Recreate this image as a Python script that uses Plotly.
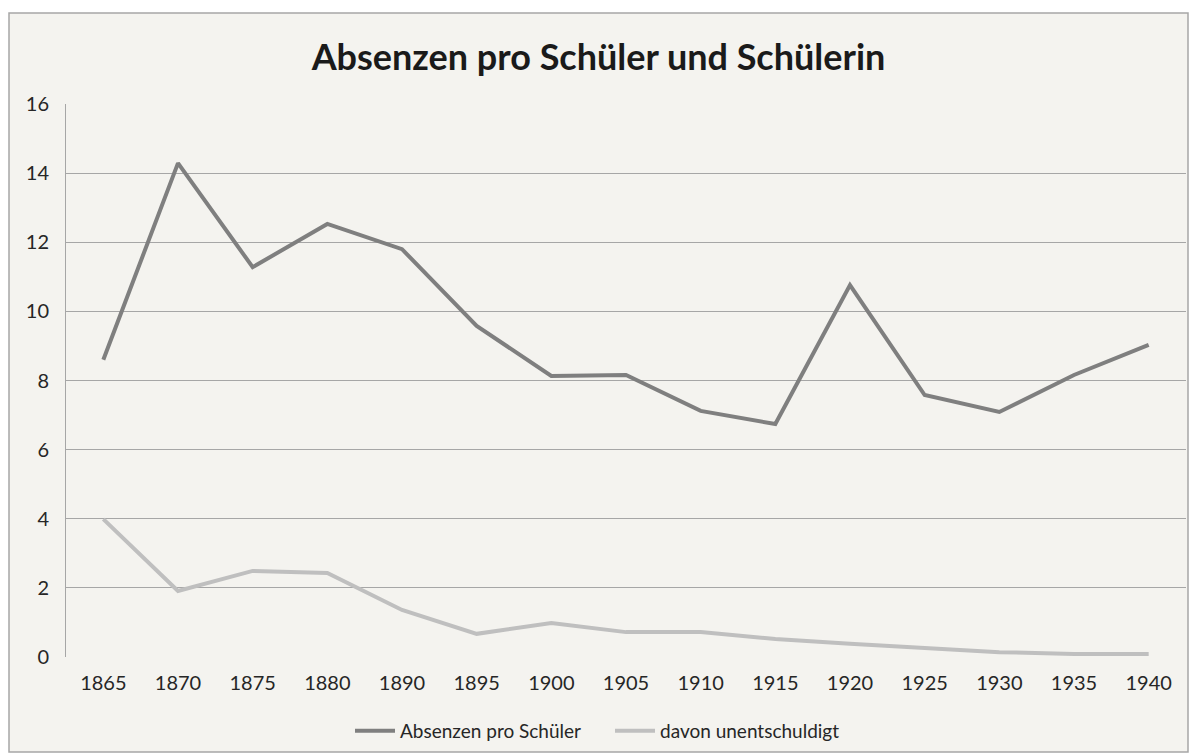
import plotly.graph_objects as go

years = ["1865", "1870", "1875", "1880", "1890", "1895", "1900", "1905",
         "1910", "1915", "1920", "1925", "1930", "1935", "1940"]
absenzen = [8.6, 14.29, 11.28, 12.53, 11.8, 9.58, 8.13, 8.16,
            7.12, 6.74, 10.76, 7.58, 7.09, 8.16, 9.03]
unentschuldigt = [3.99, 1.91, 2.49, 2.43, 1.36, 0.67, 0.98, 0.72,
                  0.72, 0.52, 0.38, 0.26, 0.14, 0.09, 0.09]

FONT = "Lato"
L, R, T, B = 66, 11, 104, 98
PW, PH = 1197 - L - R, 755 - T - B


def px_x(p):
    return (p - L) / PW


def px_y(p):
    return (755 - B - p) / PH


fig = go.Figure()
fig.add_trace(go.Scatter(x=years, y=absenzen, mode="lines", name="Absenzen pro Schüler",
                         line=dict(color="#7f7f7f", width=4), legend="legend"))
fig.add_trace(go.Scatter(x=years, y=unentschuldigt, mode="lines", name="davon unentschuldigt",
                         line=dict(color="#bfbfbf", width=4), legend="legend2"))

leg_common = dict(orientation="h", yanchor="middle", xanchor="left",
                  font=dict(family=FONT, size=19, color="#262626"),
                  bgcolor="rgba(0,0,0,0)", itemwidth=40, borderwidth=0)

fig.update_layout(
    width=1197, height=755,
    margin=dict(l=L, r=R, t=T, b=B, autoexpand=False),
    paper_bgcolor="white",
    plot_bgcolor="rgba(0,0,0,0)",
    font=dict(family=FONT, size=20, color="#262626"),
    title=dict(text="<b>Absenzen pro Schüler und Schülerin</b>", x=0.5, xanchor="center",
               y=1 - 57 / 755, yanchor="middle", font=dict(family=FONT, size=36, color="#1a1a1a")),
    showlegend=True,
    legend=dict(x=px_x(350), y=px_y(731), **leg_common),
    legend2=dict(x=px_x(610), y=px_y(731), **leg_common),
    shapes=[dict(type="rect", xref="paper", yref="paper",
                 x0=px_x(9), x1=px_x(1188), y0=px_y(752), y1=px_y(13),
                 fillcolor="#f4f3ef", line=dict(color="#a6a6a6", width=1.5), layer="below")],
)
fig.update_xaxes(type="category", range=[-0.5, len(years) - 0.5], showgrid=False,
                 showline=False, ticks="", tickfont=dict(size=20, color="#262626"),
                 ticklabelstandoff=12)
fig.update_yaxes(range=[0, 16], dtick=2, showgrid=True, gridcolor="#a6a6a6", gridwidth=1,
                 showline=True, linecolor="#a6a6a6", linewidth=1, zeroline=False, ticks="",
                 tickfont=dict(size=20, color="#262626"), ticklabelstandoff=12)

fig.write_html("out.html", config={"displayModeBar": False},
               post_script="document.body.style.margin='0';document.body.style.overflow='hidden';")
